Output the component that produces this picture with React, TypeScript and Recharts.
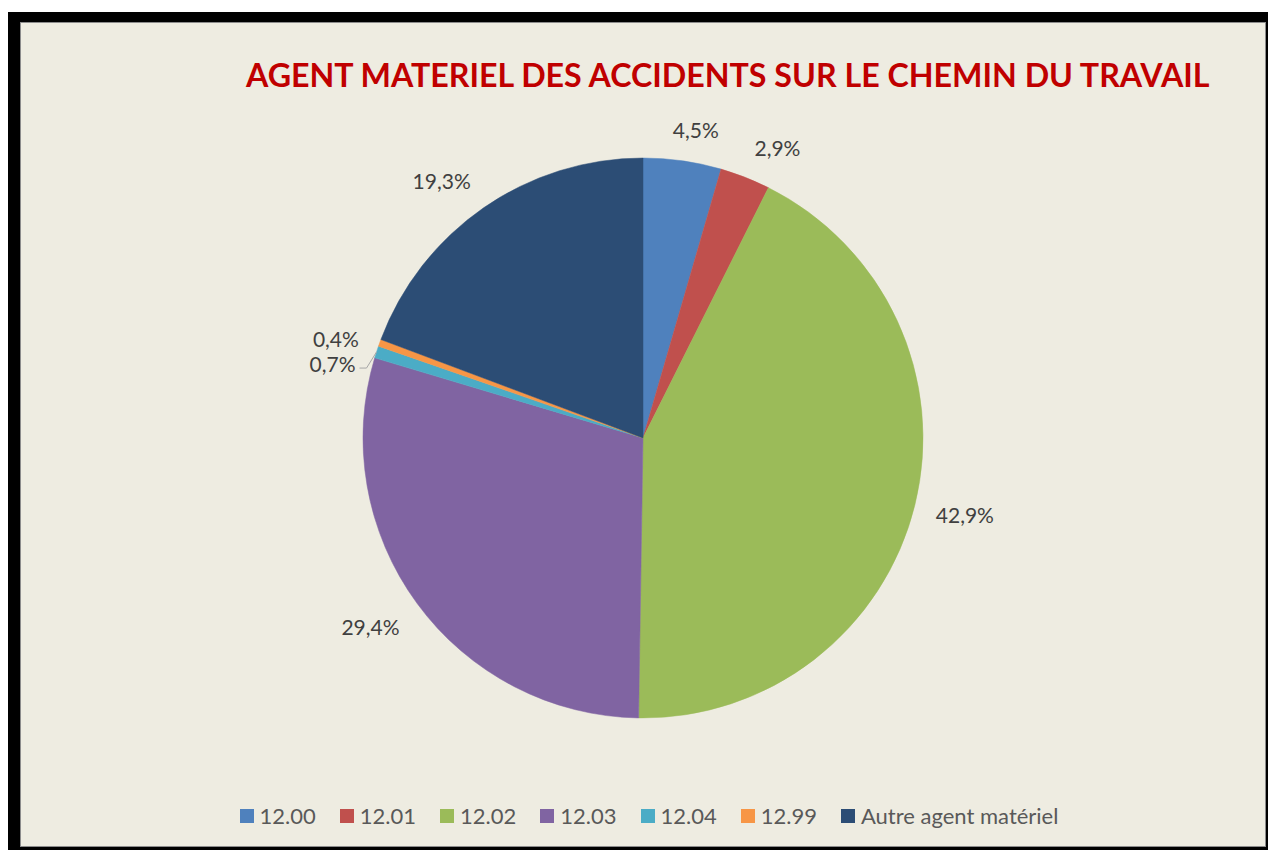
import React from "react";
import { Cell, Legend, Pie, PieChart } from "recharts";

const categories = ["12.00", "12.01", "12.02", "12.03", "12.04", "12.99", "Autre agent matériel"];
const shares = [4.5, 2.9, 42.9, 29.4, 0.7, 0.4, 19.3];
const colors = ["#4F81BD", "#C0504D", "#9BBB59", "#8064A2", "#4BACC6", "#F79646", "#2C4D75"];

const data = categories.map((name, i) => ({ name, value: shares[i] }));

const CHART_W = 1244;
const CHART_H = 823;
const CX = 622;
const CY = 415;
const R = 280;
const GAP = 20;
const LABEL_H = 22;
const STACK_STEP = 25;

const fmt = (v: number) => v.toFixed(1).replace(".", ",") + "%";

type LabelBox = { x: number; y: number; y0: number; w: number; ex: number; ey: number };

function layoutLabels(): LabelBox[] {
    const total = shares.reduce((a, b) => a + b, 0);
    const clamp = (v: number) => Math.max(-1, Math.min(1, v));
    let acc = 0;
    const boxes: LabelBox[] = shares.map((v) => {
        const theta = (((acc + v / 2) / total) * 360 * Math.PI) / 180;
        acc += v;
        const s = Math.sin(theta);
        const c = Math.cos(theta);
        const w = fmt(v).length * 11 + 6;
        const px = CX + (R + GAP) * s;
        const py = CY - (R + GAP) * c;
        const y = py - (LABEL_H / 2) * clamp(c * 2);
        return {
            x: px + (w / 2) * clamp(s * 3),
            y,
            y0: y,
            w,
            ex: CX + R * s,
            ey: CY - R * c,
        };
    });
    // overlapping labels: the upper one takes the lower spot, the other goes below it
    const placed: LabelBox[] = [];
    for (let i = boxes.length - 1; i >= 0; i--) {
        const b = boxes[i];
        const p = placed.find(
            (q) => Math.abs(q.x - b.x) < (q.w + b.w) / 2 && Math.abs(q.y - b.y) < LABEL_H,
        );
        if (p) {
            p.y = Math.max(p.y, b.y) - 1;
            b.y = p.y + STACK_STEP;
        }
        placed.push(b);
    }
    return boxes;
}

const labelBoxes = layoutLabels();

function renderLabel(props: any) {
    const b = labelBoxes[props.index];
    if (!b) return null;
    const right = b.x + b.w / 2;
    const moved = b.y - b.y0 > 12;
    return (
        <g>
            {moved && (
                <polyline
                    points={`${b.ex},${b.ey} ${right + 9},${b.y + 5} ${right + 2},${b.y + 5}`}
                    fill="none"
                    stroke="#A6A6A6"
                    strokeWidth={1}
                />
            )}
            <text
                x={b.x}
                y={b.y}
                textAnchor="middle"
                dominantBaseline="central"
                fontSize={21}
                fontFamily="Lato"
                fill="#404040"
            >
                {fmt(shares[props.index])}
            </text>
        </g>
    );
}

function renderLegend() {
    return (
        <div
            style={{
                display: "flex",
                justifyContent: "center",
                gap: 24,
                paddingLeft: 12,
                fontFamily: "Lato",
                fontSize: 22,
                lineHeight: "30px",
                color: "#595959",
            }}
        >
            {categories.map((name, i) => (
                <div key={name} style={{ display: "flex", alignItems: "center", gap: 6 }}>
                    <span style={{ width: 14, height: 14, background: colors[i], display: "inline-block" }} />
                    <span>{name}</span>
                </div>
            ))}
        </div>
    );
}

export default function App() {
    return (
        <div
            style={{
                position: "absolute",
                left: 8,
                top: 12,
                width: 1260,
                height: 838,
                background: "#000",
                paddingLeft: 12,
                paddingTop: 10,
                boxSizing: "border-box",
            }}
        >
            <div
                style={{
                    position: "relative",
                    width: 1246,
                    height: 825,
                    background: "#EEECE1",
                    border: "1px solid #8C8C8C",
                    boxSizing: "border-box",
                }}
            >
                <div
                    style={{
                        position: "absolute",
                        left: 225,
                        top: 33,
                        whiteSpace: "nowrap",
                        fontFamily: "Lato",
                        fontWeight: 700,
                        fontSize: 32.2,
                        lineHeight: 1.2,
                        color: "#C00000",
                    }}
                >
                    AGENT MATERIEL DES ACCIDENTS SUR LE CHEMIN DU TRAVAIL
                </div>
                <PieChart width={CHART_W} height={CHART_H} margin={{ top: 0, right: 0, bottom: 0, left: 0 }}>
                    <Pie
                        data={data}
                        dataKey="value"
                        nameKey="name"
                        cx={CX}
                        cy={CY}
                        outerRadius={R}
                        startAngle={90}
                        endAngle={-270}
                        label={renderLabel}
                        labelLine={false}
                        isAnimationActive={false}
                    >
                        {data.map((d, i) => (
                            <Cell key={d.name} fill={colors[i]} stroke={colors[i]} strokeWidth={0.5} />
                        ))}
                    </Pie>
                    <Legend content={renderLegend} wrapperStyle={{ top: 778, left: 0, width: CHART_W }} />
                </PieChart>
            </div>
        </div>
    );
}
